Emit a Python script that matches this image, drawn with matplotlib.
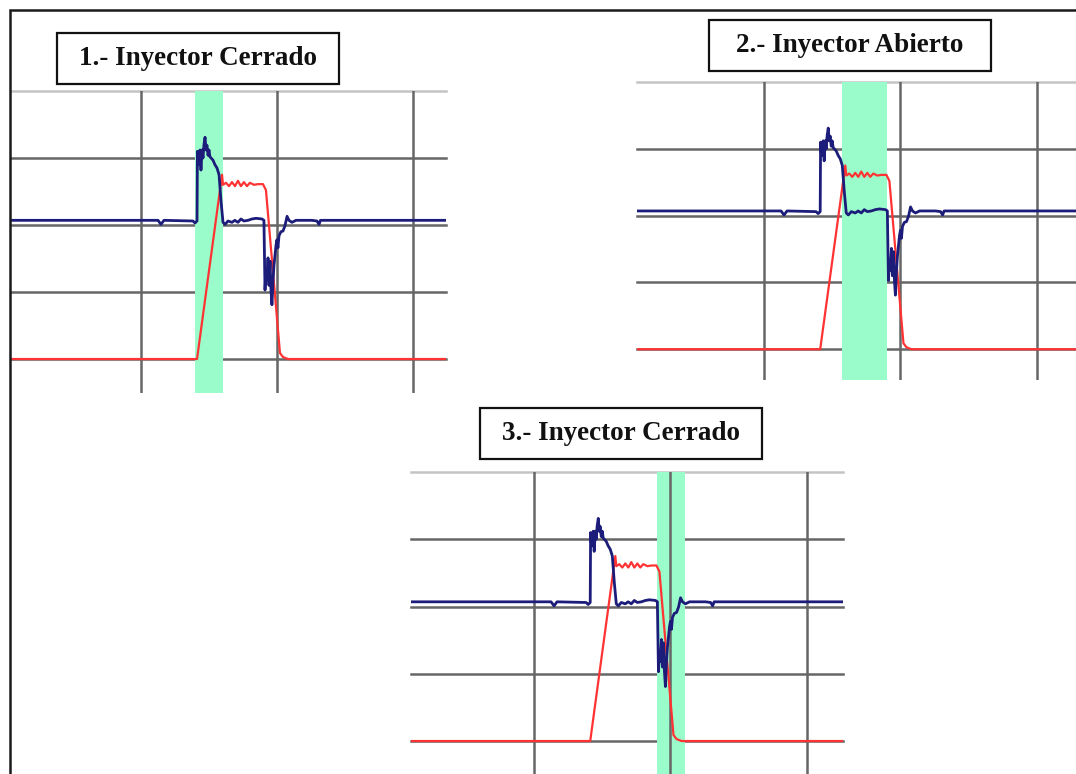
import matplotlib.pyplot as plt
from matplotlib.patches import Rectangle

# Waveform (same capture in all three panels), grid units
blue_x = [0.0, 1.125, 1.147, 1.169, 1.382, 1.397, 1.412, 1.415, 1.420, 1.426, 1.434, 1.441,
          1.449, 1.456, 1.463, 1.471, 1.478, 1.485, 1.493, 1.500, 1.507, 1.515, 1.529, 1.544,
          1.559, 1.574, 1.588, 1.603, 1.618, 1.640, 1.669, 1.690, 1.713, 1.735, 1.757, 1.787,
          1.816, 1.846, 1.890, 1.904, 1.912, 1.919, 1.926, 1.934, 1.941, 1.949, 1.956,
          1.963, 1.971, 1.978, 1.993, 2.000, 2.007, 2.015, 2.029, 2.044, 2.059, 2.074,
          2.088, 2.110, 2.140, 2.257, 2.294, 2.309, 2.320, 3.4]
blue_y = [2.07, 2.07, 2.01, 2.07, 2.06, 2.03, 2.06, 3.10, 2.95, 2.90, 3.12, 2.82,
          3.12, 3.00, 3.20, 3.31, 3.12, 3.19, 3.04, 3.12, 3.02, 3.00, 2.97, 2.90,
          2.85, 2.75, 2.37, 2.04, 2.01, 2.06, 2.04, 2.07, 2.04, 2.09, 2.06, 2.07,
          2.09, 2.10, 2.09, 2.07, 1.03, 1.33, 1.18, 1.51, 1.10, 1.46, 1.03,
          0.81, 1.18, 1.40, 1.70, 1.78, 1.66, 1.84, 1.90, 1.91, 1.99, 2.13,
          2.07, 2.04, 2.07, 2.07, 2.06, 2.01, 2.07, 2.07]

red_x = [0.0, 1.412, 1.596, 1.603, 1.625, 1.647, 1.669, 1.691, 1.713, 1.735, 1.757,
         1.779, 1.801, 1.831, 1.860, 1.897, 1.919, 2.022, 2.044, 2.081, 3.4]
red_y = [0.0, 0.0, 2.75, 2.60, 2.63, 2.58, 2.64, 2.58, 2.66, 2.58, 2.64,
         2.58, 2.63, 2.60, 2.61, 2.61, 2.52, 0.09, 0.03, 0.0, 0.0]

grid_x = [1, 2, 3]
grid_y = [0, 1, 2, 3, 4]

titles = ["1.- Inyector Cerrado", "2.- Inyector Abierto", "3.- Inyector Cerrado"]
bands = [(1.397, 1.603), (1.571, 1.900), (1.900, 2.106)]

W, H = 1076, 774
# axes boxes in pixels (left, top, right, bottom) and x/y limits
ax_px = [(11, 91, 446, 393), (637, 82, 1076, 380), (411, 472, 843, 774)]
xlims = [(0.044, 3.243), (0.070, 3.286), (0.099, 3.264)]
ylims = [(-0.507, 4.0), (-0.46, 4.0), (-0.49, 4.0)]
# title boxes in pixels (left, top, right, bottom)
box_px = [(57, 33, 339, 84), (709, 20, 991, 71), (480, 408, 762, 459)]

fig = plt.figure(figsize=(W / 100, H / 100), dpi=100)

for i in range(3):
    x0, y0, x1, y1 = ax_px[i]
    ax = fig.add_axes([x0 / W, 1 - y1 / H, (x1 - x0) / W, (y1 - y0) / H])
    ax.set_xlim(*xlims[i])
    ax.set_ylim(*ylims[i])
    ax.axis('off')

    for gy in grid_y:
        col = '#c4c4c4' if gy == 4 else '#666666'
        ax.axhline(gy, color=col, lw=1.8, zorder=0, clip_on=False)
    ax.axvspan(bands[i][0], bands[i][1], color='#9bfccb', lw=0, zorder=1)
    for gx in grid_x:
        ax.axvline(gx, color='#666666', lw=1.8, zorder=2)

    ax.plot(red_x, red_y, color='#ff3333', lw=1.6, zorder=3)
    ax.plot(blue_x, blue_y, color='#1c1c7a', lw=2.0, zorder=4)

    bx0, by0, bx1, by1 = box_px[i]
    fig.patches.append(Rectangle((bx0 / W, 1 - by1 / H), (bx1 - bx0) / W, (by1 - by0) / H,
                                 transform=fig.transFigure, fill=False,
                                 edgecolor='#111111', lw=1.6))
    fig.text((bx0 + bx1) / 2 / W, 1 - (by0 + by1) / 2 / H, titles[i],
             ha='center', va='center', fontsize=19.5, fontweight='bold',
             family='Liberation Serif', color='#111111')

# outer frame (only left and top edges are inside the picture)
fig.patches.append(Rectangle((9.5 / W, -0.05), 1.1, 1 - 10 / H + 0.05,
                             transform=fig.transFigure, fill=False,
                             edgecolor='#1a1a1a', lw=1.8))

fig.savefig('out.png', dpi=100)
